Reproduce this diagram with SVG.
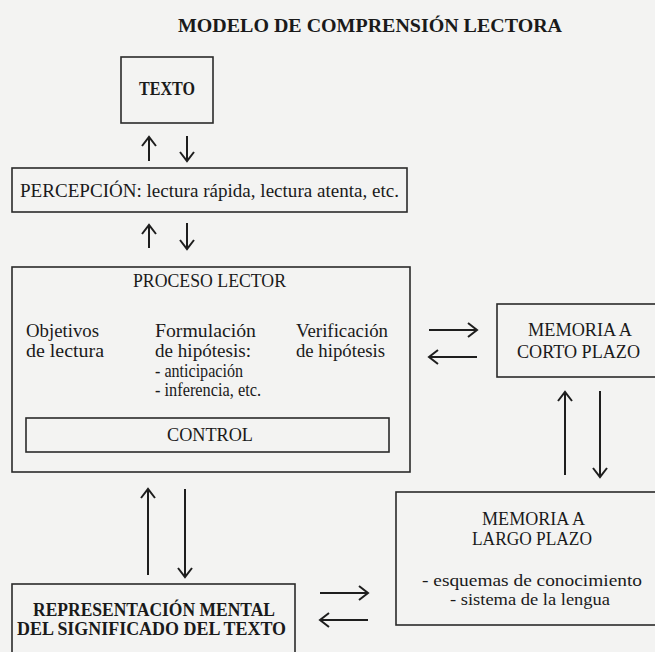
<svg xmlns="http://www.w3.org/2000/svg" width="655" height="652" viewBox="0 0 655 652">
<style>
.bg{fill:#f3f3f2}
.box{fill:none;stroke:#2a2a2a;stroke-width:1.6}
.t{font-family:"Liberation Serif","Times New Roman",serif;font-size:18px;fill:#1a1a1a}
.s{font-size:16px}
.b{font-weight:bold}
.arr{fill:none;stroke:#1e1e1e;stroke-width:2;marker-end:url(#ah)}
</style>
<defs>
<marker id="ah" markerUnits="userSpaceOnUse" markerWidth="20" markerHeight="20" viewBox="-12 -10 14 20" refX="0" refY="0" orient="auto">
<path d="M-9,-7 L0,0 L-9,7" fill="none" stroke="#1e1e1e" stroke-width="2"/>
</marker>
</defs>
<rect class="bg" x="0" y="0" width="655" height="652"/>
<text class="t b" x="178" y="32" font-size="19" textLength="384" lengthAdjust="spacingAndGlyphs">MODELO DE COMPRENSIÓN LECTORA</text>
<g id="texto">
<rect class="box" x="121" y="57" width="92" height="66"/>
<text class="t b" x="139" y="95" font-size="17" textLength="56" lengthAdjust="spacingAndGlyphs">TEXTO</text>
</g>
<g id="percepcion">
<rect class="box" x="12" y="168" width="395" height="44"/>
<text class="t" x="20" y="197" textLength="379" lengthAdjust="spacingAndGlyphs">PERCEPCIÓN: lectura rápida, lectura atenta, etc.</text>
</g>
<g id="proceso">
<rect class="box" x="12" y="267" width="398" height="205"/>
<text class="t" x="133" y="287" textLength="153" lengthAdjust="spacingAndGlyphs">PROCESO LECTOR</text>
<text class="t" x="26" y="337" textLength="73" lengthAdjust="spacingAndGlyphs">Objetivos</text>
<text class="t" x="26" y="357" textLength="78" lengthAdjust="spacingAndGlyphs">de lectura</text>
<text class="t" x="155" y="337" textLength="101" lengthAdjust="spacingAndGlyphs">Formulación</text>
<text class="t" x="155" y="357" textLength="96" lengthAdjust="spacingAndGlyphs">de hipótesis:</text>
<text class="t" x="155" y="377" textLength="88" lengthAdjust="spacingAndGlyphs">- anticipación</text>
<text class="t" x="155" y="396" textLength="106" lengthAdjust="spacingAndGlyphs">- inferencia, etc.</text>
<text class="t" x="296" y="337" textLength="92" lengthAdjust="spacingAndGlyphs">Verificación</text>
<text class="t" x="296" y="357" textLength="89" lengthAdjust="spacingAndGlyphs">de hipótesis</text>
</g>
<g id="control">
<rect class="box" x="26" y="418" width="363" height="34"/>
<text class="t" x="167" y="441" textLength="86" lengthAdjust="spacingAndGlyphs">CONTROL</text>
</g>
<g id="corto">
<rect class="box" x="497" y="304" width="165" height="73"/>
<text class="t" x="528" y="336" textLength="104" lengthAdjust="spacingAndGlyphs">MEMORIA A</text>
<text class="t" x="517" y="358" textLength="123" lengthAdjust="spacingAndGlyphs">CORTO PLAZO</text>
</g>
<g id="largo">
<rect class="box" x="396" y="492" width="266" height="133"/>
<text class="t" x="482" y="525" textLength="103" lengthAdjust="spacingAndGlyphs">MEMORIA A</text>
<text class="t" x="472" y="545" textLength="120" lengthAdjust="spacingAndGlyphs">LARGO PLAZO</text>
<text class="t s" x="422" y="586" textLength="220" lengthAdjust="spacingAndGlyphs">- esquemas de conocimiento</text>
<text class="t s" x="450" y="605" textLength="160" lengthAdjust="spacingAndGlyphs">- sistema de la lengua</text>
</g>
<g id="representacion">
<rect class="box" x="12" y="584" width="283" height="80"/>
<text class="t b" x="33" y="616" textLength="242" lengthAdjust="spacingAndGlyphs">REPRESENTACIÓN MENTAL</text>
<text class="t b" x="17" y="635" textLength="269" lengthAdjust="spacingAndGlyphs">DEL SIGNIFICADO DEL TEXTO</text>
</g>
<g id="connectors">
<path class="arr" d="M149,161 L149,137"/>
<path class="arr" d="M187,136 L187,161"/>
<path class="arr" d="M149,248 L149,225"/>
<path class="arr" d="M187,223 L187,249"/>
<path class="arr" d="M429,330 L477,330"/>
<path class="arr" d="M477,357 L429,357"/>
<path class="arr" d="M565,475 L565,392"/>
<path class="arr" d="M600,391 L600,477"/>
<path class="arr" d="M148,575 L148,489"/>
<path class="arr" d="M185,489 L185,577"/>
<path class="arr" d="M320,593 L368,593"/>
<path class="arr" d="M368,620 L320,620"/>
</g>
</svg>
